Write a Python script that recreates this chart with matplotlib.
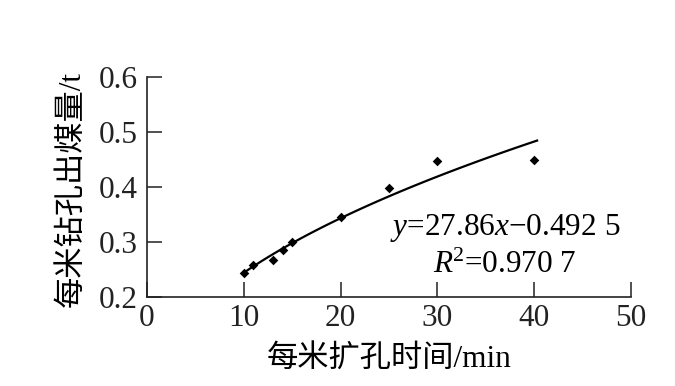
import numpy as np
import matplotlib
matplotlib.use("Agg")
import matplotlib.pyplot as plt

# Data
time_min = [10, 11, 13, 14, 15, 20, 25, 30, 40]
coal_t = [0.243, 0.258, 0.268, 0.285, 0.300, 0.345, 0.398, 0.447, 0.449]
x_ticks = [0, 10, 20, 30, 40, 50]
y_ticks = [0.2, 0.3, 0.4, 0.5, 0.6]
xlabel = "每米扩孔时间/min"
ylabel = "每米钻孔出煤量/t"

FONT = ["Liberation Serif", "Noto Sans CJK SC", "DejaVu Sans"]
plt.rcParams["font.family"] = FONT
plt.rcParams["mathtext.fontset"] = "custom"
plt.rcParams["mathtext.it"] = "Liberation Serif:italic"
plt.rcParams["mathtext.rm"] = "Liberation Serif"

FS = 22.5
fig = plt.figure(figsize=(6.75, 3.86), dpi=100)
ax = fig.add_axes([0.2178, 0.2306, 0.9348 - 0.2178, 0.8005 - 0.2306])

ax.scatter(time_min, coal_t, marker="D", s=24, color="black", zorder=3, linewidths=0)

# power-law trend line fitted to the points
xa = np.array(time_min, float)
ya = np.array(coal_t, float)
b, loga = np.polyfit(np.log(xa), np.log(ya), 1)
xs = np.linspace(10, 40.3, 100)
ax.plot(xs, np.exp(loga) * xs ** b, color="black", lw=1.6)

ax.set_xlim(0, 50)
ax.set_ylim(0.2, 0.6)
ax.set_xticks(x_ticks)
ax.set_yticks(y_ticks)
ax.set_xticklabels([str(v) for v in x_ticks])
ax.set_yticklabels([f"{v:.1f}" for v in y_ticks])
for s in ["top", "right"]:
    ax.spines[s].set_visible(False)
for s in ["left", "bottom"]:
    ax.spines[s].set_linewidth(1.2)
    ax.spines[s].set_color("#222222")
ax.tick_params(direction="in", length=11, width=1.1, labelsize=FS, pad=7, colors="#222222")
ax.tick_params(axis="x", pad=5)

ax.set_xlabel(xlabel, fontsize=FS, va="center", ha="center")
ax.set_ylabel(ylabel, fontsize=FS, va="center", ha="center")
ax.xaxis.set_label_coords(0.5, -0.283)
ax.yaxis.set_label_coords(-0.155, 0.49)

ax.text(0.74, 0.314, r"$y$=27.86$x$−0.492 5", transform=ax.transAxes,
        ha="center", va="center", fontsize=FS)
ax.text(0.74, 0.145, r"$R$$^{2}$=0.970 7", transform=ax.transAxes,
        ha="center", va="center", fontsize=FS)

fig.savefig("out.png", dpi=100)
